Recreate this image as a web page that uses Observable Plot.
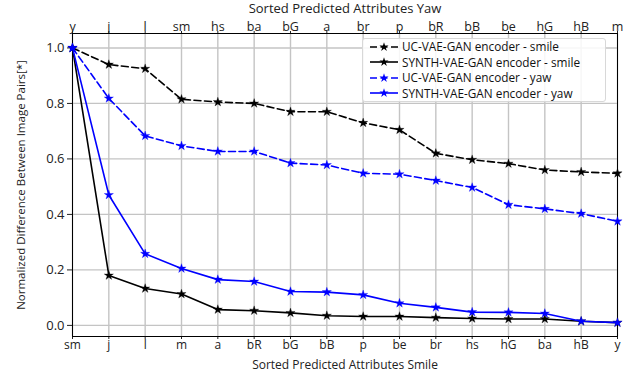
<!DOCTYPE html>
<html>
<head>
<meta charset="utf-8">
<script src="https://cdn.jsdelivr.net/npm/d3@7"></script>
<script src="https://cdn.jsdelivr.net/npm/@observablehq/plot@0.6"></script>
<style>
  body { margin: 0; background: #fff; font-family: "Open Sans", sans-serif; }
  #wrap { position: relative; width: 636px; height: 372px; }
  #legend { position: absolute; left: 362px; top: 38px; width: 244px; height: 64px;
    border: 1px solid #d8d8d8; border-radius: 3px; background: rgba(255,255,255,0.85);
    font-size: 11.8px; line-height: 15.5px; box-sizing: border-box; padding-top: 0px; color: #111; }
  .row { display: flex; align-items: center; height: 15.5px; }
  .row svg { margin-left: 6px; margin-right: 3px; }
</style>
</head>
<body>
<div id="wrap"><div id="chart"></div><div id="legend"></div></div>
<script>
const smileLabels = ["sm","j","l","m","a","bR","bG","bB","p","be","br","hs","hG","ba","hB","y"];
const yawLabels   = ["y","j","l","sm","hs","ba","bG","a","br","p","bR","bB","be","hG","hB","m"];
const ucSmile    = [1.0,0.94,0.925,0.815,0.805,0.80,0.77,0.77,0.73,0.705,0.62,0.597,0.583,0.56,0.553,0.548];
const synthSmile = [1.0,0.18,0.133,0.113,0.057,0.053,0.045,0.035,0.032,0.032,0.028,0.025,0.023,0.023,0.015,0.01];
const ucYaw      = [1.0,0.818,0.683,0.647,0.627,0.627,0.585,0.578,0.548,0.545,0.522,0.497,0.435,0.42,0.403,0.375];
const synthYaw   = [1.0,0.47,0.258,0.205,0.165,0.158,0.122,0.12,0.11,0.08,0.065,0.048,0.047,0.043,0.015,0.01];
const yTicks = [0,0.2,0.4,0.6,0.8,1.0];

const seriesDefs = [
  {name:"UC-VAE-GAN encoder - smile", values: ucSmile, color:"#000000", dash:"7,3.5"},
  {name:"SYNTH-VAE-GAN encoder - smile", values: synthSmile, color:"#000000", dash:null},
  {name:"UC-VAE-GAN encoder - yaw", values: ucYaw, color:"#0000ff", dash:"7,3.5"},
  {name:"SYNTH-VAE-GAN encoder - yaw", values: synthYaw, color:"#0000ff", dash:null}
];
const idx = smileLabels.map((_, i) => i);

const lineMarks = [];
for (const s of seriesDefs) {
  const data = s.values.map((v, i) => ({i, v}));
  lineMarks.push(Plot.line(data, {x:"i", y:"v", stroke:s.color, strokeWidth:1.6, strokeDasharray:s.dash || undefined}));
  lineMarks.push(Plot.dot(data, {x:"i", y:"v", symbol:"star", fill:s.color, stroke:s.color, strokeWidth:0.3, r:2.9}));
}

const chart = Plot.plot({
  width: 636, height: 372,
  marginLeft: 72, marginRight: 19, marginTop: 33, marginBottom: 36,
  style: {fontFamily: "'Open Sans', sans-serif", fontSize: "13px", color: "#222"},
  x: {domain: [0, 15]},
  y: {domain: [-0.04, 1.052]},
  marks: [
    Plot.gridX(idx, {stroke: "#c4c4c4", strokeOpacity: 1, strokeWidth: 1.4}),
    Plot.gridY(yTicks, {stroke: "#c4c4c4", strokeOpacity: 1, strokeWidth: 1.4}),
    Plot.axisX(idx, {anchor: "top", tickFormat: i => yawLabels[i], tickSize: 3, tickPadding: 0, label: null, fontSize: 12.5}),
    Plot.axisX(idx, {anchor: "bottom", tickFormat: i => smileLabels[i], tickSize: 3, tickPadding: 1, label: null, fontSize: 12}),
    Plot.axisY(yTicks, {tickFormat: d3.format(".1f"), tickSize: 5, tickPadding: 3, label: "Normalized Difference Between Image Pairs[*]", labelAnchor: "center", labelOffset: 56, labelArrow: "none", fontSize: 13}),
    Plot.frame({stroke: "#000", strokeWidth: 1}),
    Plot.text(["Sorted Predicted Attributes Yaw"], {frameAnchor: "top", dy: -25, lineAnchor: "middle", fontSize: 13}),
    Plot.text(["Sorted Predicted Attributes Smile"], {frameAnchor: "bottom", dy: 28.5, lineAnchor: "middle", fontSize: 12}),
    ...lineMarks
  ]
});
document.getElementById("chart").appendChild(chart);
chart.querySelectorAll("g[aria-label='y-axis label'] text").forEach(t => t.setAttribute("font-size", "11.5"));

const legend = document.getElementById("legend");
for (const s of seriesDefs) {
  const row = document.createElement("div");
  row.className = "row";
  const starPath = d3.symbol(d3.symbolStar, 26)();
  row.innerHTML = `<svg width="30" height="12"><line x1="1" y1="6" x2="29" y2="6" stroke="${s.color}" stroke-width="1.6" ${s.dash ? `stroke-dasharray="${s.dash}"` : ""}/><path d="${starPath}" transform="translate(15,6)" fill="${s.color}"/></svg><span>${s.name}</span>`;
  legend.appendChild(row);
}
</script>
</body>
</html>
